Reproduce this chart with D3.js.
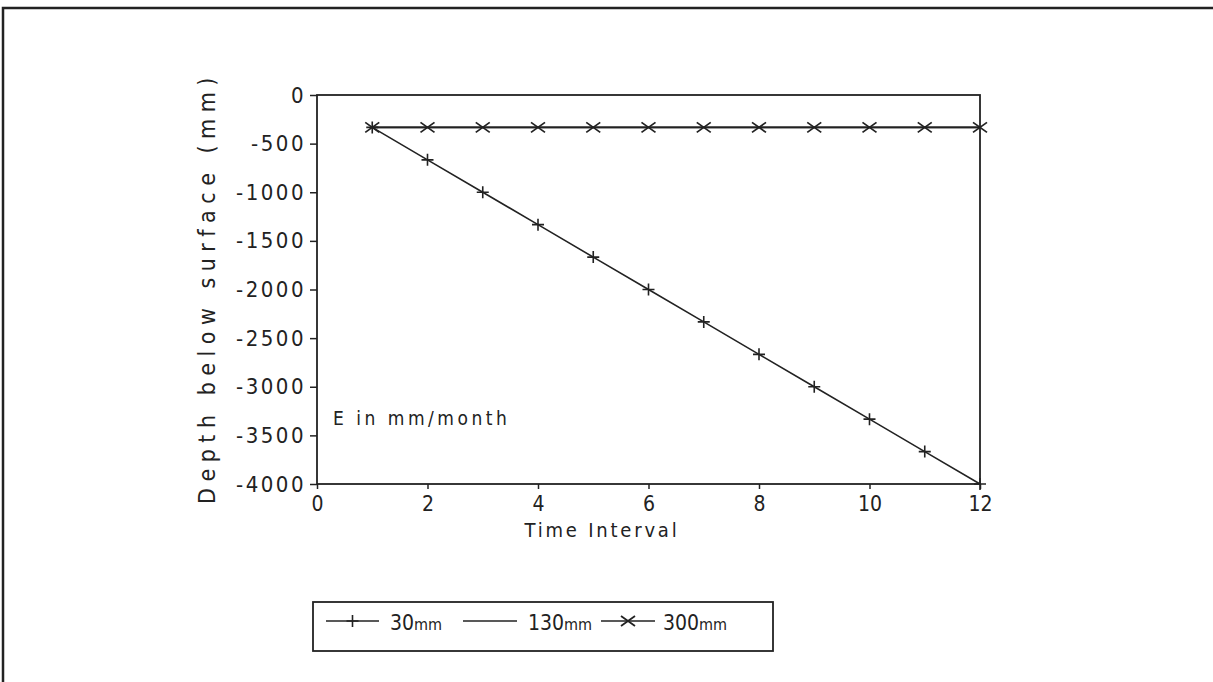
<!DOCTYPE html>
<html>
<head>
<meta charset="utf-8">
<script src="https://cdn.jsdelivr.net/npm/d3@7"></script>
<style>
  body { margin: 0; background: #fff; }
  text { font-family: "DejaVu Sans Condensed", "DejaVu Sans", sans-serif; fill: #222; }
</style>
</head>
<body>
<div id="main"></div>
<script>
// data
var intervals = [1, 2, 3, 4, 5, 6, 7, 8, 9, 10, 11, 12];
var depth30 = [-333, -667, -1000, -1333, -1667, -2000, -2333, -2667, -3000, -3333, -3667, -4000];
var depth130 = [-333, -333, -333, -333, -333, -333, -333, -333, -333, -333, -333, -333];
var depth300 = [-333, -333, -333, -333, -333, -333, -333, -333, -333, -333, -333, -333];
var xTicks = [0, 2, 4, 6, 8, 10, 12];
var yTicks = [0, -500, -1000, -1500, -2000, -2500, -3000, -3500, -4000];
var seriesNames = ["30mm", "130mm", "300mm"];

var W = 1213, H = 682;
var fontFam = '"DejaVu Sans Condensed", "DejaVu Sans", sans-serif';
var svg = d3.select("#main").append("svg")
    .attr("width", W)
    .attr("height", H);

// outer frame (top and left edges only visible)
svg.append("path")
    .attr("d", "M3,682 V8 H1213")
    .attr("fill", "none")
    .attr("stroke", "#222")
    .attr("stroke-width", 2.5);

var x = d3.scaleLinear().domain([0, 12]).range([317, 980]);
var y = d3.scaleLinear().domain([-4000, 0]).range([484, 95]);

var ink = "#222";

// y axis
var yAxis = svg.append("g")
    .attr("transform", "translate(" + x(0) + ",0)")
    .call(d3.axisLeft(y).tickValues(yTicks).tickSize(7).tickPadding(4)
        .tickFormat(function(d) { return d === 0 ? "0" : "-" + Math.abs(d); }));
yAxis.select(".domain").remove();
yAxis.selectAll("line").attr("stroke", ink).attr("stroke-width", 1.5);
yAxis.selectAll("text").attr("font-size", 22).attr("font-family", fontFam)
    .attr("letter-spacing", 2.5).attr("fill", ink);

// x axis
var xAxis = svg.append("g")
    .attr("transform", "translate(0," + y(-4000) + ")")
    .call(d3.axisBottom(x).tickValues(xTicks).tickSize(5).tickPadding(7));
xAxis.select(".domain").remove();
xAxis.selectAll("line").attr("stroke", ink).attr("stroke-width", 1.5);
xAxis.selectAll("text").attr("font-size", 21).attr("font-family", fontFam).attr("fill", ink);

// plot box
svg.append("rect")
    .attr("x", x(0))
    .attr("y", y(0))
    .attr("width", x(12) - x(0))
    .attr("height", y(-4000) - y(0))
    .attr("fill", "none")
    .attr("stroke", ink)
    .attr("stroke-width", 1.8);

// axis titles
svg.append("text")
    .attr("transform", "translate(215," + ((y(0) + y(-4000)) / 2 - 2) + ") rotate(-90)")
    .attr("text-anchor", "middle")
    .attr("font-size", 23)
    .attr("letter-spacing", 6.5)
    .text("Depth below surface (mm)");

svg.append("text")
    .attr("x", 602)
    .attr("y", 537)
    .attr("text-anchor", "middle")
    .attr("font-size", 20)
    .attr("letter-spacing", 2.8)
    .text("Time Interval");

svg.append("text")
    .attr("x", 333)
    .attr("y", 425)
    .attr("font-size", 19)
    .attr("letter-spacing", 3.5)
    .text("E in mm/month");

// lines
var line = function(vals) {
    return d3.line()
        .x(function(d, i) { return x(intervals[i]); })
        .y(function(d) { return y(d); })(vals);
};
[depth130, depth300, depth30].forEach(function(vals) {
    svg.append("path")
        .attr("d", line(vals))
        .attr("fill", "none")
        .attr("stroke", ink)
        .attr("stroke-width", 1.6);
});

// markers
function plus(g, cx, cy) {
    g.append("path")
        .attr("d", "M" + (cx - 6) + "," + cy + "H" + (cx + 6) + "M" + cx + "," + (cy - 6) + "V" + (cy + 6))
        .attr("stroke", ink).attr("stroke-width", 1.6).attr("fill", "none");
}
function cross(g, cx, cy) {
    g.append("path")
        .attr("d", "M" + (cx - 7) + "," + (cy - 5) + "L" + (cx + 7) + "," + (cy + 5) +
                   "M" + (cx - 7) + "," + (cy + 5) + "L" + (cx + 7) + "," + (cy - 5))
        .attr("stroke", ink).attr("stroke-width", 1.8).attr("fill", "none");
}
var marks = svg.append("g");
depth30.forEach(function(d, i) { plus(marks, x(intervals[i]), y(d)); });
depth300.forEach(function(d, i) { cross(marks, x(intervals[i]), y(d)); });

// legend
var lg = svg.append("g");
lg.append("rect")
    .attr("x", 313).attr("y", 602)
    .attr("width", 460).attr("height", 49)
    .attr("fill", "none").attr("stroke", ink).attr("stroke-width", 1.8);

var legendItems = [
    {name: seriesNames[0], x0: 326, x1: 379, tx: 390, mark: "plus"},
    {name: seriesNames[1], x0: 463, x1: 517, tx: 528, mark: null},
    {name: seriesNames[2], x0: 601, x1: 655, tx: 663, mark: "cross"}
];
var ly = 621;
legendItems.forEach(function(it) {
    lg.append("line")
        .attr("x1", it.x0).attr("x2", it.x1)
        .attr("y1", ly).attr("y2", ly)
        .attr("stroke", ink).attr("stroke-width", 1.6);
    if (it.mark === "plus") plus(lg, (it.x0 + it.x1) / 2, ly);
    if (it.mark === "cross") cross(lg, (it.x0 + it.x1) / 2, ly);
    var num = it.name.replace("mm", "");
    var t = lg.append("text")
        .attr("x", it.tx).attr("y", ly + 9)
        .attr("font-size", 21);
    t.append("tspan").text(num);
    t.append("tspan").attr("font-size", 16).text("mm");
});
</script>
</body>
</html>
